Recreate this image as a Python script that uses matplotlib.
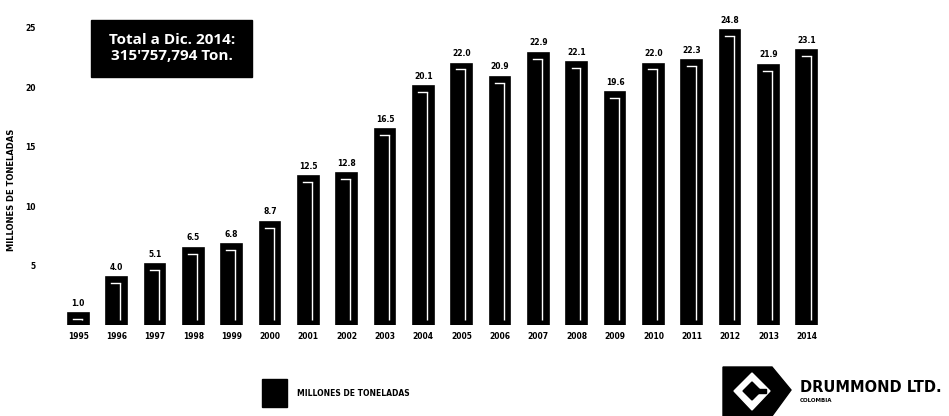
import matplotlib
matplotlib.use("Agg")
import matplotlib.pyplot as plt
from matplotlib.patches import Polygon, Rectangle

years = ["1995", "1996", "1997", "1998", "1999", "2000", "2001", "2002", "2003", "2004",
         "2005", "2006", "2007", "2008", "2009", "2010", "2011", "2012", "2013", "2014"]
values = [1.0, 4.0, 5.1, 6.5, 6.8, 8.7, 12.5, 12.8, 16.5, 20.1,
          22.0, 20.9, 22.9, 22.1, 19.6, 22.0, 22.3, 24.8, 21.9, 23.1]
y_ticks = [5, 10, 15, 20, 25]
y_label = "MILLONES DE TONELADAS"
legend_label = "MILLONES DE TONELADAS"
total_text = "Total a Dic. 2014:\n315'757,794 Ton."

W, H = 949, 416
fig = plt.figure(figsize=(W / 100, H / 100), dpi=100)
fig.patch.set_facecolor("white")

def fx(px):
    return px / W

def fy(py):
    return 1 - py / H

ax = fig.add_axes([fx(59), fy(325), fx(826 - 59), (325 - 16) / H])
x = list(range(len(years)))
bw = 0.54
ax.bar(x, values, width=bw, color="black", edgecolor="black", linewidth=1.2)
# white highlight strip for the 3D look
for xi, v in zip(x, values):
    ax.plot([xi + bw * 0.18, xi + bw * 0.18], [0.4, v - 0.5], color="white", lw=1.0,
            solid_capstyle="butt")
    ax.plot([xi - bw * 0.25, xi + bw * 0.18], [v - 0.5, v - 0.5], color="white", lw=1.0)
    ax.text(xi, v + 0.45, f"{v:.1f}", ha="center", va="bottom", fontsize=5.5,
            fontweight="bold", color="black")

ax.set_xlim(-0.5, len(years) - 0.5)
ax.set_ylim(0, 26)
ax.set_xticks(x)
ax.set_xticklabels(years, fontsize=5.5, fontweight="bold")
ax.set_yticks(y_ticks)
ax.set_yticklabels([str(t) for t in y_ticks], fontsize=5.5, fontweight="bold")
ax.tick_params(axis="both", length=0)
ax.tick_params(axis="y", pad=17)
ax.tick_params(axis="x", pad=5)
for s in ax.spines.values():
    s.set_visible(False)

fig.text(fx(12), fy(190), y_label, rotation=90, ha="center", va="center",
         fontsize=6, fontweight="bold")

# total box
fig.patches.append(Rectangle((fx(91), fy(77)), fx(252 - 91), (77 - 20) / H,
                             transform=fig.transFigure, facecolor="black",
                             edgecolor="black"))
fig.text(fx(172), fy(48), total_text, ha="center", va="center", color="white",
         fontsize=11, fontweight="bold", family="Open Sans", linespacing=1.2)

# legend
fig.patches.append(Rectangle((fx(262), fy(407)), fx(25), 28 / H,
                             transform=fig.transFigure, facecolor="black",
                             edgecolor="black"))
fig.text(fx(297), fy(394), legend_label, ha="left", va="center", fontsize=5.5,
         fontweight="bold")

# logo
def pt(px, py):
    return (fx(px), fy(py))

fig.patches.append(Polygon([pt(723, 367), pt(772, 367), pt(791, 390), pt(772, 416),
                            pt(723, 416)], closed=True, transform=fig.transFigure,
                           facecolor="black", edgecolor="black"))
fig.patches.append(Polygon([pt(752, 373), pt(770, 391), pt(752, 410), pt(734, 391)],
                           closed=True, transform=fig.transFigure,
                           facecolor="white", edgecolor="white"))
fig.patches.append(Polygon([pt(752, 382), pt(761, 391), pt(752, 400), pt(743, 391)],
                           closed=True, transform=fig.transFigure,
                           facecolor="black", edgecolor="black"))
fig.patches.append(Rectangle((fx(752), fy(393)), fx(14), 4 / H,
                             transform=fig.transFigure, facecolor="black",
                             edgecolor="black"))
fig.text(fx(800), fy(387), "DRUMMOND LTD.", ha="left", va="center", fontsize=10.5,
         fontweight="bold", family="DejaVu Sans")
fig.text(fx(800), fy(400), "COLOMBIA", ha="left", va="center", fontsize=4,
         fontweight="bold")

fig.savefig("out.png", dpi=100, facecolor="white")
